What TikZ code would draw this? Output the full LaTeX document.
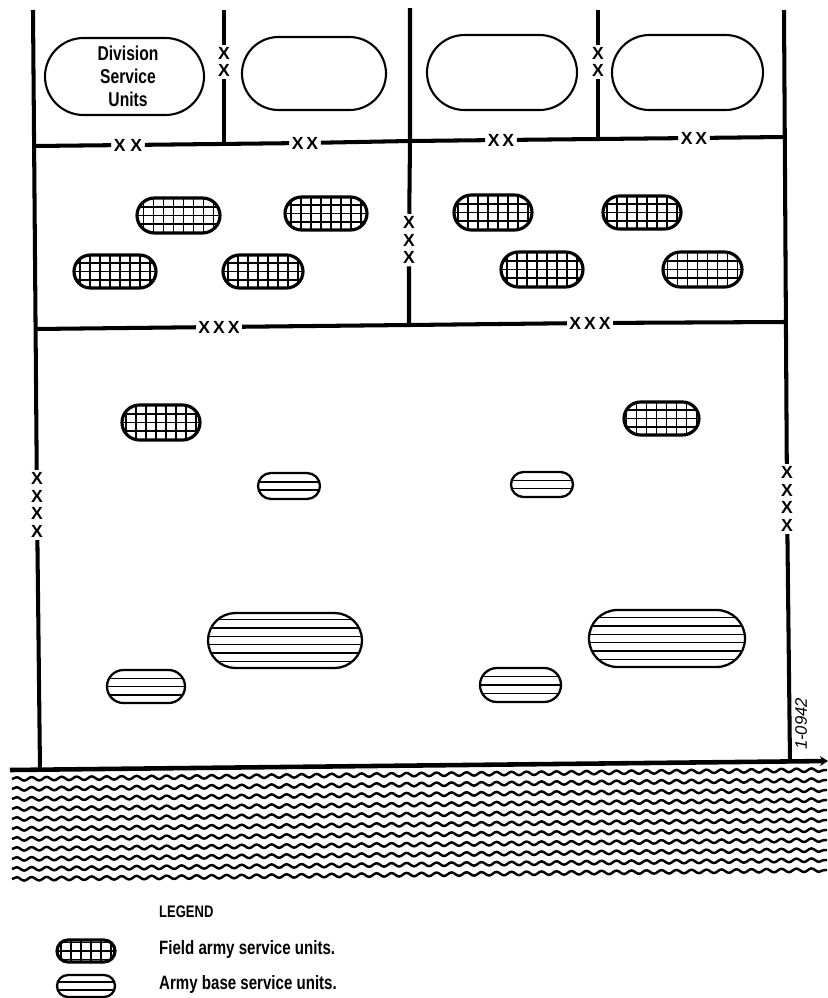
\documentclass[tikz,border=0pt]{standalone}
\usepackage{fontspec}
\newfontfamily\mapfont[FakeStretch=0.78]{Liberation Sans}
\newfontfamily\markfont{Liberation Sans}
\usetikzlibrary{arrows.meta,shapes.misc,decorations.pathmorphing}

\begin{document}
\begin{tikzpicture}[x=0.02cm,y=-0.02cm,>=Stealth,
  border/.style={line width=2.3pt},
  xmark/.style={inner sep=1.3pt,align=center,font=\markfont\bfseries\fontsize{10}{10}\selectfont},
  division/.style 2 args={rounded rectangle,draw,line width=1.2pt,inner sep=0pt,
    minimum width=#1*0.02cm,minimum height=#2*0.02cm},
  field/.style 2 args={rounded rectangle,draw,line width=1.8pt,inner sep=0pt,
    minimum width=#1*0.02cm,minimum height=#2*0.02cm,
    path picture={
      \foreach \i in {-5,...,4}
        \draw[line width=1.1pt] ([xshift=\i*0.2cm+0.1cm]path picture bounding box.north)
          -- ([xshift=\i*0.2cm+0.1cm]path picture bounding box.south);
      \foreach \j in {-1,0,1}
        \draw[line width=1.1pt] ([yshift=\j*0.17cm]path picture bounding box.west)
          -- ([yshift=\j*0.17cm]path picture bounding box.east);
    }},
  base/.style n args={3}{rounded rectangle,draw,line width=1.3pt,inner sep=0pt,
    minimum width=#1*0.02cm,minimum height=#2*0.02cm,
    path picture={
      \foreach \k in {#3}
        \draw[line width=0.8pt] ([yshift=\k*0.166cm]path picture bounding box.west)
          -- ([yshift=\k*0.166cm]path picture bounding box.east);
    }},
  unittext/.style={align=center,font=\mapfont\bfseries\fontsize{11.4}{13}\selectfont},
  legendtext/.style={anchor=west,font=\mapfont\bfseries\fontsize{11}{13}\selectfont},
  wave/.style={line width=1.4pt,decorate,decoration={snake,segment length=0.3cm,amplitude=0.035cm}}]
  \useasboundingbox (0,0) rectangle (828,998);

  % boundary ends and junctions
  \coordinate (lt) at (33,10);
  \coordinate (l1) at (34,146);
  \coordinate (l2) at (35,329);
  \coordinate (lbot) at (40,770);
  \coordinate (d1t) at (224,10);
  \coordinate (d1b) at (224,145);
  \coordinate (ct) at (410,8);
  \coordinate (cj) at (410,141);
  \coordinate (cb) at (409,325);
  \coordinate (d2t) at (598,10);
  \coordinate (d2b) at (598,138);
  \coordinate (rt) at (784,10);
  \coordinate (r1) at (784,137);
  \coordinate (r2) at (785,322);
  \coordinate (rbot) at (790,762);
  \coordinate (sl) at (10,770);
  \coordinate (sr) at (828,761);

  % boundary symbols
  \node[xmark] (x4l) at (37,505) {X\\X\\X\\X};
  \node[xmark] (x4r) at (787,499) {X\\X\\X\\X};
  \node[xmark] (x2a) at (224,62) {X\\X};
  \node[xmark] (x2b) at (598,62) {X\\X};
  \node[xmark] (x3c) at (409,240) {X\\X\\X};
  \node[xmark] (x2c) at (128,145) {X X};
  \node[xmark] (x2d) at (305,143) {X\,X};
  \node[xmark] (x2e) at (501,140) {X\,X};
  \node[xmark] (x2f) at (694,138) {X\,X};
  \node[xmark] (x3a) at (219,327) {X\,X\,X};
  \node[xmark] (x3b) at (590,323) {X\,X\,X};

  \draw[border] (lt) -- (x4l) -- (lbot);
  \draw[border] (rt) -- (x4r) -- (rbot);
  \draw[border] (d1t) -- (x2a) -- (d1b);
  \draw[border] (d2t) -- (x2b) -- (d2b);
  \draw[border] (ct) -- (cj) -- (x3c) -- (cb);
  \draw[border] (l1) -- (x2c) -- (x2d) -- (cj) -- (x2e) -- (x2f) -- (r1);
  \draw[border] (l2) -- (x3a) -- (cb) -- (x3b) -- (r2);
  \draw[line width=2.6pt,-{Stealth[length=1.6mm,width=2mm]}] (sl) -- (sr);

  % sea
  \foreach \k in {0,...,10}
    \draw[wave] (12,779+10*\k) -- (827,770+10*\k);

  % division service units
  \node[division={159}{77}] (dv1) at (124.5,76.5) {};
  \node[unittext] (dvt) at (128,76) {Division\\Service\\Units};
  \node[division={144}{73}] (dv2) at (314,73.5) {};
  \node[division={150}{75}] (dv3) at (502,72.5) {};
  \node[division={151}{75}] (dv4) at (687.5,72.5) {};

  % field army service units
  \node[field={83}{35}] (fa) at (178.5,215.5) {};
  \node[field={82}{33}] (fb) at (326,213.5) {};
  \node[field={82}{33}] (fc) at (115,271.5) {};
  \node[field={80}{33}] (fd) at (263,271.5) {};
  \node[field={78}{35}] (fe) at (493,212.5) {};
  \node[field={78}{33}] (ff) at (642,212.5) {};
  \node[field={82}{35}] (fg) at (542,269.5) {};
  \node[field={79}{35}] (fh) at (702.5,269.5) {};
  \node[field={78}{35}] (fi) at (161,422.5) {};
  \node[field={75}{33}] (fm) at (661.5,418.5) {};

  % army base service units
  \node[base={62}{26}{-0.5,0.5}] (bj) at (289,486) {};
  \node[base={62}{25}{-0.5,0.5}] (bn) at (542,484.5) {};
  \node[base={154}{55}{-2.5,-1.5,-0.5,0.5,1.5,2.5}] (bk) at (285,640.5) {};
  \node[base={156}{57}{-2.5,-1.5,-0.5,0.5,1.5,2.5}] (bo) at (667,638.5) {};
  \node[base={78}{33}{-1,0,1}] (bl) at (146,686.5) {};
  \node[base={81}{34}{-1,0,1}] (bp) at (520.5,685) {};

  \node[rotate=90,font=\markfont\itshape\fontsize{9.5}{10}\selectfont] (tag) at (801,724) {1-0942};

  % legend
  \node[legendtext,font=\mapfont\bfseries\fontsize{9.5}{11}\selectfont] (leg) at (153,912) {LEGEND};
  \node[field={58}{22}] (lgf) at (86,951) {};
  \node[legendtext] (lgft) at (153,949) {Field army service units.};
  \node[base={58}{22}{-0.5,0.5}] (lgb) at (86,986) {};
  \node[legendtext] (lgbt) at (153,984) {Army base service units.};
\end{tikzpicture}
\end{document}
